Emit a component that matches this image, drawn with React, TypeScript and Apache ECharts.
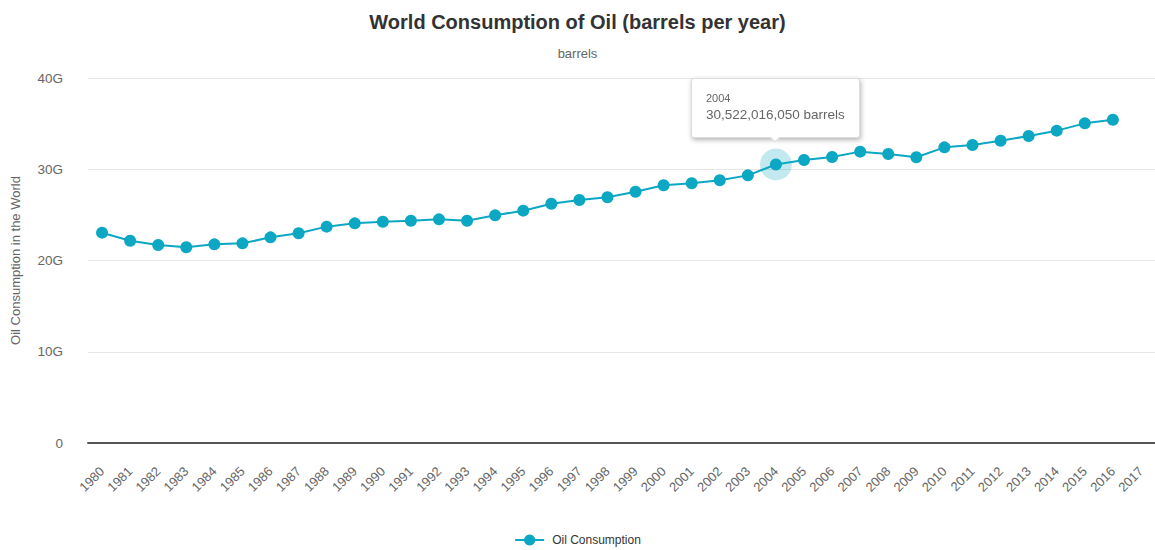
import React, { useEffect, useRef } from "react";
import * as echarts from "echarts";

const years = [
  "1980", "1981", "1982", "1983", "1984", "1985", "1986", "1987", "1988", "1989",
  "1990", "1991", "1992", "1993", "1994", "1995", "1996", "1997", "1998", "1999",
  "2000", "2001", "2002", "2003", "2004", "2005", "2006", "2007", "2008", "2009",
  "2010", "2011", "2012", "2013", "2014", "2015", "2016", "2017",
];

const consumption: (number | null)[] = [
  23050000000, 22170000000, 21700000000, 21450000000, 21770000000, 21880000000,
  22540000000, 22980000000, 23710000000, 24070000000, 24250000000, 24360000000,
  24510000000, 24360000000, 24950000000, 25460000000, 26220000000, 26630000000,
  26930000000, 27540000000, 28240000000, 28460000000, 28790000000, 29330000000,
  30522016050, 31010000000, 31340000000, 31930000000, 31670000000, 31310000000,
  32400000000, 32660000000, 33130000000, 33640000000, 34230000000, 35030000000,
  35430000000, null,
];

const yTicks = [0, 10000000000, 20000000000, 30000000000, 40000000000];
const highlightIndex = 24;

const FONT = "'Liberation Sans', Arial, Helvetica, sans-serif";
const COLOR = "#0ba7c3";

export default function App() {
  const ref = useRef<HTMLDivElement>(null);
  useEffect(() => {
    if (!ref.current) return;
    const chart = echarts.init(ref.current, null, { renderer: "svg" });
    chart.setOption({
      animation: false,
      textStyle: { fontFamily: FONT },
      title: [
        {
          text: "World Consumption of Oil (barrels per year)",
          left: "center",
          top: 7,
          textStyle: { fontSize: 20, fontWeight: "bold", color: "#333333", fontFamily: FONT },
        },
        {
          text: "barrels",
          left: "center",
          top: 42,
          textStyle: { fontSize: 13, fontWeight: "normal", color: "#666666", fontFamily: FONT },
        },
      ],
      grid: { left: 88, right: 0, top: 78, bottom: 107 },
      legend: {
        data: ["Oil Consumption"],
        left: "center",
        top: 529,
        itemWidth: 29,
        itemHeight: 14,
        itemGap: 8,
        textStyle: { color: "#333333", fontSize: 12, fontFamily: FONT, padding: [0, 0, 0, 3] },
      },
      tooltip: {
        trigger: "item",
        position: "top",
        alwaysShowContent: true,
        transitionDuration: 0,
        backgroundColor: "#ffffff",
        borderColor: "#dddddd",
        borderWidth: 1,
        padding: [12, 14, 12, 14],
        extraCssText:
          "box-shadow: 1px 2px 5px rgba(0,0,0,0.3); border-radius: 3px; margin-top: -10px;",
        formatter: (p: any) =>
          `<div style="font-family:${FONT};font-size:11px;color:#666;line-height:14px">${p.name}</div>` +
          `<div style="font-family:${FONT};font-size:13.5px;color:#666;line-height:20px">${Number(
            p.value
          ).toLocaleString("en-US")} barrels</div>`,
      },
      xAxis: {
        type: "category",
        data: years,
        boundaryGap: true,
        axisLine: { lineStyle: { color: "#555555", width: 2 } },
        axisTick: { show: false },
        axisLabel: {
          rotate: 45,
          interval: 0,
          margin: 26,
          color: "#666666",
          fontSize: 13,
          fontFamily: FONT,
        },
        splitLine: { show: false },
      },
      yAxis: {
        type: "value",
        min: yTicks[0],
        max: yTicks[yTicks.length - 1],
        interval: yTicks[1] - yTicks[0],
        name: "Oil Consumption in the World",
        nameLocation: "middle",
        nameGap: 66,
        nameTextStyle: { color: "#666666", fontSize: 13, fontFamily: FONT },
        axisLine: { show: false },
        axisTick: { show: false },
        axisLabel: {
          margin: 25,
          color: "#666666",
          fontSize: 13.5,
          fontFamily: FONT,
          formatter: (v: number) => (v === 0 ? "0" : `${v / 1000000000}G`),
        },
        splitLine: { lineStyle: { color: "#e6e6e6", width: 1 } },
      },
      series: [
        {
          name: "Oil Consumption",
          type: "line",
          data: consumption,
          symbol: "circle",
          symbolSize: 12,
          showSymbol: true,
          z: 3,
          lineStyle: { color: COLOR, width: 2 },
          itemStyle: { color: COLOR },
          emphasis: { disabled: true },
          markPoint: {
            silent: true,
            z: 1,
            symbol: "circle",
            symbolSize: 32,
            label: { show: false },
            itemStyle: { color: "rgba(11,167,195,0.25)" },
            data: [{ coord: [highlightIndex, consumption[highlightIndex]] }],
          },
        },
      ],
    });
    chart.dispatchAction({ type: "showTip", seriesIndex: 0, dataIndex: highlightIndex });
    return () => chart.dispose();
  }, []);
  return (
    <div
      ref={ref}
      style={{ position: "absolute", left: 0, top: 0, width: 1155, height: 550 }}
    />
  );
}
